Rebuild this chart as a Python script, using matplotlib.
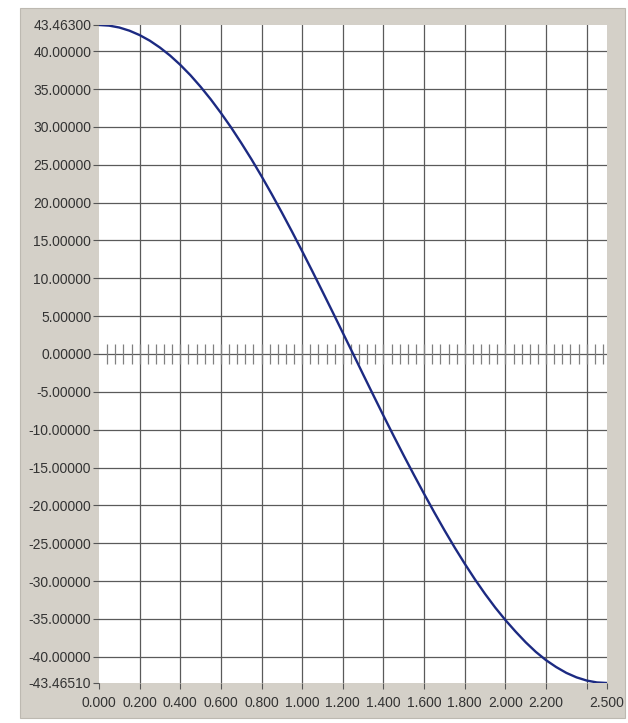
import numpy as np
import matplotlib
matplotlib.use("Agg")
from matplotlib import pyplot as plt
from matplotlib.patches import Rectangle

plt.rcParams['font.family'] = ['Liberation Sans', 'DejaVu Sans']

# sampled displacement curve, step 0.05
x_vals = [0.00, 0.05, 0.10, 0.15, 0.20, 0.25, 0.30, 0.35, 0.40, 0.45,
          0.50, 0.55, 0.60, 0.65, 0.70, 0.75, 0.80, 0.85, 0.90, 0.95,
          1.00, 1.05, 1.10, 1.15, 1.20, 1.25, 1.30, 1.35, 1.40, 1.45,
          1.50, 1.55, 1.60, 1.65, 1.70, 1.75, 1.80, 1.85, 1.90, 1.95,
          2.00, 2.05, 2.10, 2.15, 2.20, 2.25, 2.30, 2.35, 2.40, 2.45, 2.50]
y_vals = [43.463, 43.38, 43.13, 42.71, 42.13, 41.39, 40.48, 39.42, 38.20, 36.83,
          35.30, 33.64, 31.84, 29.93, 27.88, 25.74, 23.48, 21.12, 18.68, 16.16,
          13.57, 10.93, 8.24, 5.53, 2.79, 0.05, -2.71, -5.44, -8.15, -10.82,
          -13.43, -15.98, -18.48, -20.92, -23.28, -25.55, -27.71, -29.77, -31.70, -33.50,
          -35.15, -36.67, -38.09, -39.36, -40.45, -41.36, -42.13, -42.72, -43.14, -43.39, -43.4651]

y_ticks = [43.463, 40, 35, 30, 25, 20, 15, 10, 5, 0,
           -5, -10, -15, -20, -25, -30, -35, -40, -43.4651]
x_ticks = [0.0, 0.2, 0.4, 0.6, 0.8, 1.0, 1.2, 1.4, 1.6, 1.8, 2.0, 2.2, 2.4, 2.5]
x_labels = ['0.000', '0.200', '0.400', '0.600', '0.800', '1.000', '1.200',
            '1.400', '1.600', '1.800', '2.000', '2.200', '', '2.500']

W, H = 628, 723
fig = plt.figure(figsize=(W / 100, H / 100), dpi=100)
fig.patch.set_facecolor('white')

# grey window panel behind the graph
panel = Rectangle((20 / W, 1 - 718 / H), 605 / W, 710 / H,
                  transform=fig.transFigure, facecolor='#d4d0c8',
                  edgecolor='#bdb9b1', linewidth=0.8, zorder=-5)
fig.patches.append(panel)

ax = fig.add_axes([99 / W, 1 - 683 / H, 508 / W, 658 / H])
ax.set_facecolor('white')
ax.set_xlim(0, 2.5)
ax.set_ylim(y_ticks[-1], y_ticks[0])

grid_c = '#5a5a5a'
for yt in y_ticks[1:-1]:
    ax.axhline(yt, color=grid_c, linewidth=0.9, zorder=1)
for xt in x_ticks[1:-1]:
    ax.axvline(xt, color=grid_c, linewidth=0.9, zorder=1)

# small marks along the zero line
minor = np.arange(0.04, 2.5, 0.04)
ax.vlines(minor, -1.3, 1.3, color='#808080', linewidth=0.9, zorder=1)

ax.plot(x_vals, y_vals, color='#1c2a82', linewidth=1.7, zorder=3)

ax.set_yticks(y_ticks)
ax.set_yticklabels(['%.5f' % v for v in y_ticks])
ax.set_xticks(x_ticks)
ax.set_xticklabels(x_labels)
ax.tick_params(axis='both', colors='#555555', labelcolor='#333333',
               labelsize=10, length=4.5, width=0.8, direction='out')
ax.tick_params(axis='y', pad=1)
ax.tick_params(axis='x', pad=5)
for s in ax.spines.values():
    s.set_visible(False)

fig.savefig('out.png', dpi=100)
